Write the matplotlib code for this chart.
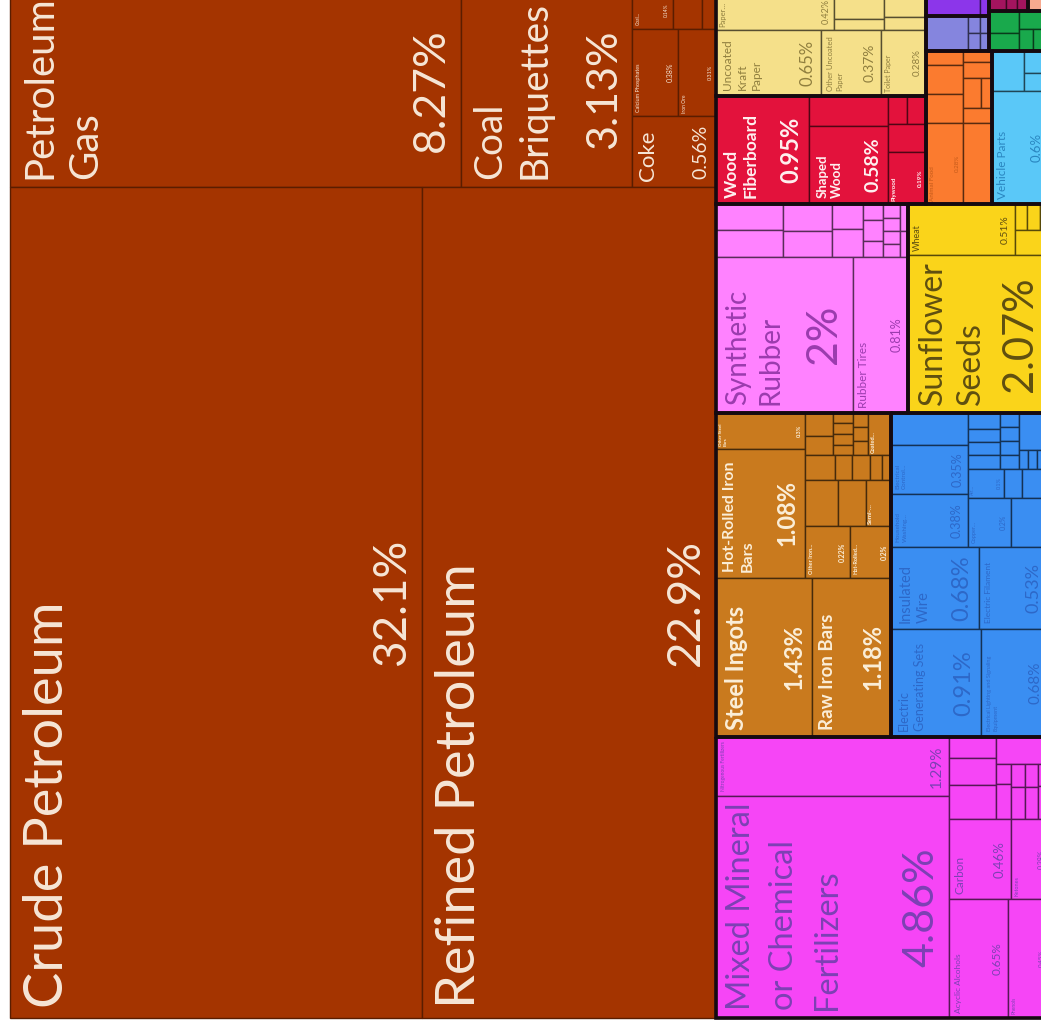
import matplotlib
matplotlib.use("Agg")
import matplotlib.pyplot as plt
from matplotlib.patches import Rectangle
from matplotlib.font_manager import FontProperties
from matplotlib.textpath import TextToPath
from matplotlib.colors import to_rgb

# ------------------------------------------------------------------ data
# values are shares of total exports (%); split specs give the tiling order
mineral_names = ["Crude Petroleum", "Refined Petroleum", "Petroleum Gas", "Coal Briquettes",
                 "Coke", "Calcium Phosphates", "Iron Ore", "Coal…", "", ""]
mineral_values = [32.1, 22.9, 8.27, 3.13, 0.56, 0.38, 0.31, 0.14, 0.10, 0.05]
mineral_spec = ('y', [('x', [2, 3, ('y', [('x', [7, 8, 9]), ('x', [5, 6]), 4])]), ('x', [0, 1])])

paper_names = ["Paper…", "", "", "", "", "Uncoated Kraft Paper", "Other Uncoated Paper", "Toilet Paper"]
paper_values = [0.42, 0.13, 0.05, 0.10, 0.05, 0.65, 0.37, 0.28]
paper_spec = ('y', [('x', [0, ('y', [1, 2]), ('y', [3, 4])]), ('x', [5, 6, 7])])

wood_names = ["Wood Fiberboard", "", "Shaped Wood", "", "", "", "Plywood"]
wood_values = [0.95, 0.22, 0.58, 0.05, 0.05, 0.10, 0.19]
wood_spec = ('x', [0, ('y', [1, 2]), ('y', [('x', [3, 4]), 5, 6])])

purple_names = ["", ""]
purple_values = [0.12, 0.02]
purple_spec = ('x', [0, 1])

lavender_names = ["", "", "", "", ""]
lavender_values = [0.14, 0.02, 0.02, 0.015, 0.015]
lavender_spec = ('x', [0, ('y', [1, 2]), ('y', [3, 4])])

darkmag_names = ["", "", ""]
darkmag_values = [0.03, 0.02, 0.02]
darkmag_spec = ('x', [0, 1, 2])

peach_names = [""]
peach_values = [0.035]
peach_spec = 0

green_names = ["", "", "", "", "", ""]
green_values = [0.06, 0.05, 0.04, 0.03, 0.02, 0.02]
green_spec = ('x', [('y', [0, 1]), ('y', [2, ('x', [3, 4])]), 5])

orange_names = ["", "", "", "", "", "", "", "", "Animal Food", ""]
orange_values = [0.05, 0.10, 0.10, 0.03, 0.04, 0.05, 0.03, 0.04, 0.28, 0.22]
orange_spec = ('y', [('x', [('y', [0, 1, 2]), ('y', [3, 4, ('x', [5, 6]), 7])]), ('x', [8, 9])])

vehicle_names = ["Vehicle Parts", "", "", ""]
vehicle_values = [0.60, 0.12, 0.05, 0.04]
vehicle_spec = ('y', [('x', [1, ('y', [2, 3])]), 0])

rubber_names = ["Synthetic Rubber", "Rubber Tires"] + [""] * 15
rubber_values = [2.0, 0.81, 0.16, 0.17, 0.12, 0.12, 0.07, 0.08,
                 0.03, 0.04, 0.03, 0.02, 0.02, 0.02, 0.02, 0.02, 0.02]
rubber_spec = ('y', [('x', [('y', [2, 3]), ('y', [4, 5]), ('y', [6, 7]),
                            ('x', [('y', [8, 9, 10]), ('y', [11, 12, 13, 14]), ('y', [15, 16])])]),
                     ('x', [0, 1])])

veg_names = ["Sunflower Seeds", "Wheat", "", "", "", ""]
veg_values = [2.07, 0.51, 0.03, 0.03, 0.02, 0.08]
veg_spec = ('y', [('x', [1, ('y', [('x', [2, 3, 4]), 5])]), 0])

metal_names = ["Steel Ingots", "Raw Iron Bars", "Other Steel Bars", "Hot-Rolled Iron Bars",
               "", "", "", "", "", "", "", "", "", "Coated…",
               "", "", "", "", "",
               "", "", "Semi-…",
               "Other Iron…", "Hot-Rolled…"]
metal_values = [1.43, 1.18, 0.30, 1.08,
                0.06, 0.05, 0.02, 0.02, 0.02, 0.02, 0.02, 0.02, 0.02, 0.09,
                0.07, 0.04, 0.04, 0.03, 0.02,
                0.14, 0.12, 0.11,
                0.22, 0.20]
metal_spec = ('y', [('x', [('y', [2, 3]),
                           ('y', [('y', [('x', [('y', [4, 5]), ('y', [6, 7, 8, 9]), ('y', [10, 11, 12]), 13]),
                                         ('x', [14, 15, 16, 17, 18])]),
                                  ('x', [19, 20, 21]),
                                  ('x', [22, 23])])]),
                    ('x', [0, 1])])

machine_names = ["Electric Generating Sets", "Electrical Lighting and Signaling Equipment",
                 "Insulated Wire", "Electric Filament",
                 "", "Electrical Control…", "Household Washing…",
                 "", "", "", "", "", "", "", "", "", "", "", "",
                 "Air…", "", "", "Copper…", ""]
machine_values = [0.91, 0.68, 0.68, 0.53,
                  0.23, 0.35, 0.38,
                  0.05, 0.04, 0.04, 0.04, 0.025, 0.025, 0.025, 0.025, 0.10, 0.015, 0.015, 0.02,
                  0.10, 0.05, 0.07, 0.20, 0.17]
machine_spec = ('y', [('x', [('y', [4, 5, 6]),
                             ('y', [('x', [('y', [7, 8, 9, 10]), ('y', [11, 12, 13, 14]),
                                           ('y', [15, ('x', [16, 17, 18])])]),
                                    ('x', [19, 20, 21]),
                                    ('x', [22, 23])])]),
                      ('x', [2, 3]),
                      ('x', [0, 1])])

chem_names = ["Mixed Mineral or Chemical Fertilizers", "Nitrogenous Fertilizers", "Carbon", "Ketones",
              "Acyclic Alcohols", "Phenols"] + [""] * 12
chem_values = [4.86, 1.29, 0.46, 0.28, 0.65, 0.45,
               0.09, 0.12, 0.15, 0.13,
               0.03, 0.05, 0.03, 0.04, 0.03, 0.04, 0.02, 0.03]
chem_spec = ('x', [('y', [1, 0]),
                   ('y', [('x', [('y', [6, 7, 8]),
                                 ('y', [9, ('x', [('y', [10, 11]), ('y', [12, 13]), ('y', [14, 15]), ('y', [16, 17])])])]),
                          ('x', [2, 3]),
                          ('x', [4, 5])])])

groups = {
    'minerals': (mineral_names, mineral_values, mineral_spec),
    'paper': (paper_names, paper_values, paper_spec),
    'wood': (wood_names, wood_values, wood_spec),
    'purple': (purple_names, purple_values, purple_spec),
    'lavender': (lavender_names, lavender_values, lavender_spec),
    'darkmag': (darkmag_names, darkmag_values, darkmag_spec),
    'peach': (peach_names, peach_values, peach_spec),
    'green': (green_names, green_values, green_spec),
    'orange': (orange_names, orange_values, orange_spec),
    'vehicles': (vehicle_names, vehicle_values, vehicle_spec),
    'rubber': (rubber_names, rubber_values, rubber_spec),
    'veg': (veg_names, veg_values, veg_spec),
    'metals': (metal_names, metal_values, metal_spec),
    'machines': (machine_names, machine_values, machine_spec),
    'chem': (chem_names, chem_values, chem_spec),
}

top_spec = ('x', ['minerals',
                  ('y', [('x', [('y', ['paper', 'wood']),
                                ('y', [('x', [('y', ['purple', 'lavender']),
                                              ('y', [('x', ['darkmag', 'peach']), 'green'])]),
                                       ('x', ['orange', 'vehicles'])])]),
                         ('x', ['rubber', 'veg']),
                         ('x', ['metals', 'machines']),
                         'chem'])])

# ------------------------------------------------------------------ style
FONT = 'Lato'
DPI = 100
group_face = {'minerals': '#a43400', 'paper': '#f5e08a', 'wood': '#e3123c', 'purple': '#8c36ea',
              'lavender': '#8585de', 'darkmag': '#a3145e', 'peach': '#f7a98f', 'green': '#19a94c',
              'orange': '#fb7b2f', 'vehicles': '#5ac8f8', 'rubber': '#ff82ff', 'veg': '#fad41a',
              'metals': '#c97a1e', 'machines': '#3a8ef2', 'chem': '#f645f6'}
group_text = {'minerals': '#f6e6d6', 'paper': '#8f7e3e', 'wood': '#fff0f0', 'orange': '#c45a1a',
              'vehicles': '#2a86c0', 'rubber': '#9b3cae', 'veg': '#5f4f10', 'metals': '#fbeed8',
              'machines': '#2d68c8', 'chem': '#7d40b4'}
group_weight = {'wood': 'bold', 'metals': 'bold'}
label_style = {  # name pt, pct pt, line spacing
    "Crude Petroleum": (39, 33, 1.3), "Refined Petroleum": (39, 33, 1.3), "Petroleum Gas": (29, 32, 1.3),
    "Coal Briquettes": (28, 31, 1.3), "Coke": (16, 14, 1.3), "Calcium Phosphates": (4, 5, 1.3),
    "Iron Ore": (3.5, 4, 1.3), "Coal…": (3.5, 3.5, 1.3),
    "Paper…": (5.5, 6.5, 1.3), "Uncoated Kraft Paper": (8.5, 12, 1.4), "Other Uncoated Paper": (5.5, 10, 1.4),
    "Toilet Paper": (5, 7, 1.3),
    "Wood Fiberboard": (12.5, 17, 1.25), "Shaped Wood": (9.5, 14, 1.3), "Plywood": (4.5, 4.5, 1.3),
    "Animal Food": (4.5, 4.5, 1.3), "Vehicle Parts": (8.5, 9.5, 1.3),
    "Synthetic Rubber": (20, 31, 1.3), "Rubber Tires": (8.5, 9, 1.3),
    "Sunflower Seeds": (23, 30, 1.35), "Wheat": (6.5, 7.5, 1.3),
    "Steel Ingots": (17, 17, 1.3), "Raw Iron Bars": (13.5, 17, 1.3), "Hot-Rolled Iron Bars": (11.5, 17, 1.3),
    "Other Steel Bars": (3.2, 4, 1.2), "Other Iron…": (4, 5, 1.3), "Hot-Rolled…": (4, 5, 1.3),
    "Semi-…": (4.5, 0, 1.3), "Coated…": (4, 0, 1.3),
    "Electric Generating Sets": (9, 17, 1.4), "Electrical Lighting and Signaling Equipment": (4, 11, 1.4),
    "Insulated Wire": (10.5, 17, 1.4), "Electric Filament": (6, 13, 1.4), "Electrical Control…": (4.5, 9, 1.4),
    "Household Washing…": (4.5, 9, 1.4), "Copper…": (4, 5, 1.3), "Air…": (3.5, 4, 1.3),
    "Mixed Mineral or Chemical Fertilizers": (23.5, 31, 1.55), "Nitrogenous Fertilizers": (3.5, 11, 1.4),
    "Carbon": (8.5, 9.5, 1.3), "Acyclic Alcohols": (6, 8.5, 1.3), "Ketones": (4, 5, 1.3), "Phenols": (3.5, 4.5, 1.3),
}

FIG_W, FIG_H = 1041, 1029
CW, CH = 1038.0, 1026.0          # chart box size in px
LEFT, BOTTOM = 10, 11            # chart box offset in px

# ------------------------------------------------------------------ layout
def node_total(node, gkey=None):
    if isinstance(node, str):
        return node_total(groups[node][2], node)
    if isinstance(node, int):
        return groups[gkey][1][node]
    return sum(node_total(k, gkey) for k in node[1])

leaf_rects, group_rects = [], []

def place(node, gkey, x0, y0, x1, y1):
    if isinstance(node, str):
        group_rects.append((node, x0, y0, x1, y1))
        place(groups[node][2], node, x0, y0, x1, y1)
        return
    if isinstance(node, int):
        leaf_rects.append((gkey, node, x0, y0, x1, y1))
        return
    d, kids = node
    tot = node_total(node, gkey)
    pos = x0 if d == 'x' else y0
    for k in kids:
        f = node_total(k, gkey) / tot
        if d == 'x':
            w = (x1 - x0) * f
            place(k, gkey, pos, y0, pos + w, y1)
            pos += w
        else:
            h = (y1 - y0) * f
            place(k, gkey, x0, pos, x1, pos + h)
            pos += h

place(top_spec, None, 0, 0, CW, CH)

# ------------------------------------------------------------------ draw
fig = plt.figure(figsize=(FIG_W / DPI, FIG_H / DPI), dpi=DPI)
fig.patch.set_facecolor('white')
ax = fig.add_axes([LEFT / FIG_W, BOTTOM / FIG_H, CW / FIG_W, CH / FIG_H])
ax.set_xlim(0, CW)
ax.set_ylim(CH, 0)
ax.axis('off')

def darker(c, f):
    r, g, b = to_rgb(c)
    return (r * f, g * f, b * f)

for gkey, i, x0, y0, x1, y1 in leaf_rects:
    fc = group_face[gkey]
    ec = darker(fc, 0.55) if gkey == 'minerals' else darker(fc, 0.35)
    ax.add_patch(Rectangle((x0, y0), x1 - x0, y1 - y0, facecolor=fc, edgecolor=ec,
                           linewidth=1.0, clip_on=False))

for gkey, x0, y0, x1, y1 in group_rects:
    if gkey == 'minerals':
        continue
    ax.add_patch(Rectangle((x0, y0), x1 - x0, y1 - y0, fill=False, edgecolor='#150a10',
                           linewidth=2.6, clip_on=False, zorder=3))

ttp = TextToPath()

def text_px(s, pt, weight):
    fp = FontProperties(family=FONT, size=pt, weight=weight)
    w, h, d = ttp.get_text_width_height_descent(s, fp, ismath=False)
    return w * DPI / 72.0

def wrap(name, pt, weight, avail):
    lines, cur = [], ''
    for w in name.split(' '):
        trial = (cur + ' ' + w).strip()
        if cur and text_px(trial, pt, weight) > avail:
            lines.append(cur)
            cur = w
        else:
            cur = trial
    lines.append(cur)
    return '\n'.join(lines)

for gkey, i, x0, y0, x1, y1 in leaf_rects:
    names, vals, _ = groups[gkey]
    name = names[i]
    if not name or name not in label_style:
        continue
    npt, ppt, ls = label_style[name]
    tc = group_text.get(gkey, '#ffffff')
    wt = group_weight.get(gkey, 'normal')
    npx = npt * DPI / 72.0
    box = min(x1 - x0, y1 - y0)
    pad = max(2.0, min(5 + 0.09 * npx, 0.09 * box))
    xpad = max(2.0, min(5 + 0.15 * npx, 0.09 * box))
    txt = wrap(name, npt, wt, (y1 - y0) - 1.5 * pad)
    ax.text(x0 + xpad, y1 - pad, txt, rotation=90, ha='left', va='bottom', fontsize=npt,
            color=tc, family=FONT, fontweight=wt, linespacing=ls, multialignment='left', zorder=5)
    if ppt:
        ppx = ppt * DPI / 72.0
        ppad = max(2.0, min(4 + 0.12 * ppx, 0.09 * box))
        ax.text(x1 - ppad, (y0 + y1) / 2, f"{vals[i]:.3g}%", rotation=90, ha='right', va='center',
                fontsize=ppt, color=tc, family=FONT, fontweight=wt, zorder=5)

fig.savefig('out.png', dpi=DPI, facecolor='white')
